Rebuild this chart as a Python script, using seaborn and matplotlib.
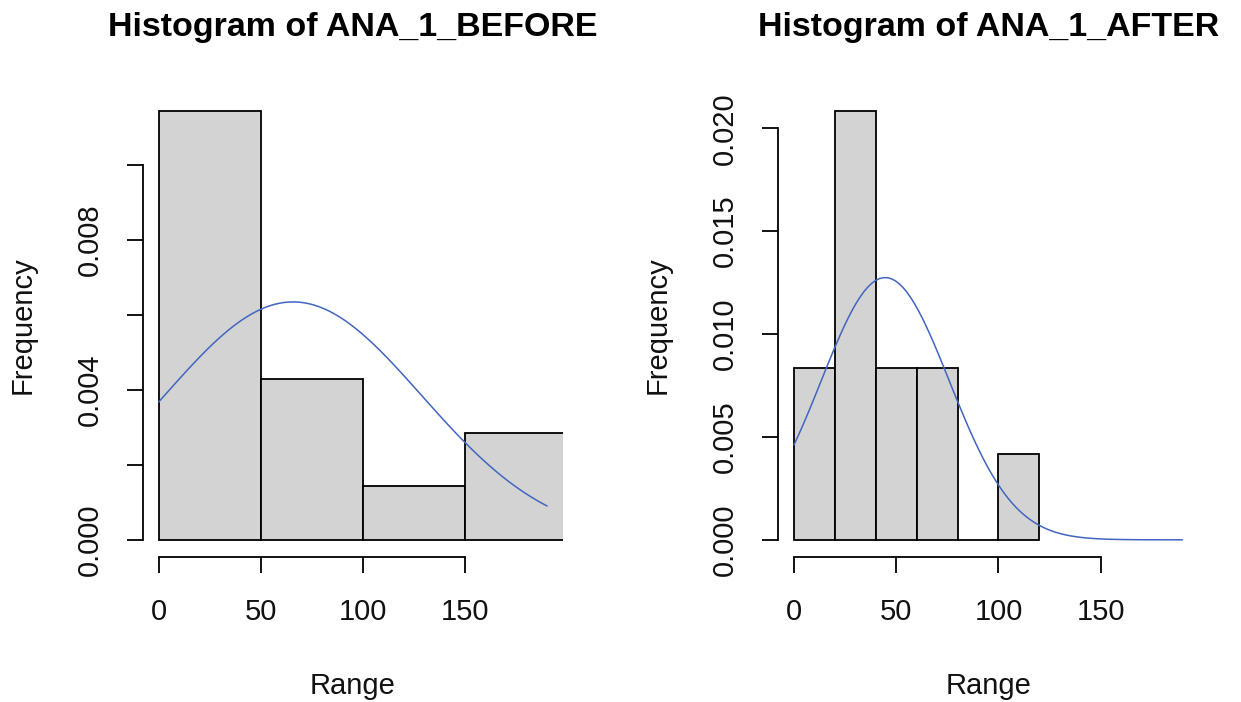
import numpy as np
import pandas as pd
import matplotlib
matplotlib.use("Agg")
import matplotlib.pyplot as plt
import seaborn as sns

# --- data (R hist, freq=FALSE, + dnorm curve) ---
before_edges = [0, 50, 100, 150, 200]
before_counts = [8, 3, 1, 2]
before_mean, before_sd = 65.8, 62.9
before_yticks = [0.000, 0.002, 0.004, 0.006, 0.008, 0.010]
before_ylabels = ["0.000", "", "0.004", "", "0.008", ""]

after_edges = [0, 20, 40, 60, 80, 100, 120]
after_counts = [2, 5, 2, 2, 0, 1]
after_mean, after_sd = 44.6, 31.3
after_yticks = [0.000, 0.005, 0.010, 0.015, 0.020]
after_ylabels = ["0.000", "0.005", "0.010", "0.015", "0.020"]

x_ticks = [0, 50, 100, 150]
x_range = (0, 190)

sns.set_style("white")
plt.rcParams['font.family'] = ['Liberation Sans', 'DejaVu Sans']
plt.rcParams['text.color'] = 'black'

fig = plt.figure(figsize=(12.41, 7.02), dpi=100)
ax_l = fig.add_axes([0.1152, 0.2066, 0.3381, 0.6595])
ax_r = fig.add_axes([0.6273, 0.2066, 0.3381, 0.6595])


def draw_panel(ax, edges, counts, mu, sd, yticks, ylabels, title):
    e = np.array(edges, dtype=float)
    mids = (e[:-1] + e[1:]) / 2
    df = pd.DataFrame({"x": mids, "w": counts})
    sns.histplot(data=df, x="x", weights="w", bins=list(edges), stat="density",
                 color="#D3D3D3", edgecolor="black", linewidth=1.3, alpha=1, ax=ax)

    # normal curve like curve(dnorm(x, mean, sd), add=TRUE)
    xs = np.linspace(x_range[0], x_range[1], 101)
    ys = np.exp(-(xs - mu) ** 2 / (2 * sd ** 2)) / (sd * np.sqrt(2 * np.pi))
    sns.lineplot(x=xs, y=ys, color="#4265C0", linewidth=1.1, ax=ax)

    # R-style limits: 4% padding around xlim / ylim
    dens = np.array(counts) / (np.sum(counts) * np.diff(e))
    xr = x_range[1] - x_range[0]
    ax.set_xlim(x_range[0] - 0.04 * xr, x_range[1] + 0.04 * xr)
    ymax = dens.max()
    ax.set_ylim(-0.04 * ymax, ymax * 1.04)

    ax.set_xticks(x_ticks)
    ax.set_xticklabels([str(t) for t in x_ticks], fontsize=21)
    ax.set_yticks(yticks)
    ax.set_yticklabels(ylabels, fontsize=21, rotation=90, va="center")

    for s in ["top", "right"]:
        ax.spines[s].set_visible(False)
    ax.spines["bottom"].set_bounds(x_ticks[0], x_ticks[-1])
    ax.spines["left"].set_bounds(yticks[0], yticks[-1])
    for s in ["bottom", "left"]:
        ax.spines[s].set_linewidth(1.3)
        ax.spines[s].set_color("black")
    ax.tick_params(axis="both", direction="out", length=11.5, width=1.3,
                   color="black", labelcolor="#111111", bottom=True, left=True)
    ax.tick_params(axis="x", pad=18)
    ax.tick_params(axis="y", pad=17)

    ax.set_xlabel("Range", fontsize=21, labelpad=33, color="#111111")
    ax.set_ylabel("Frequency", fontsize=21, labelpad=28, color="#111111")
    ax.set_title(title, fontsize=24.5, fontweight="bold", pad=42, color="black")
    ax.grid(False)


draw_panel(ax_l, before_edges, before_counts, before_mean, before_sd,
           before_yticks, before_ylabels, "Histogram of ANA_1_BEFORE")
draw_panel(ax_r, after_edges, after_counts, after_mean, after_sd,
           after_yticks, after_ylabels, "Histogram of ANA_1_AFTER")

fig.savefig("out.png", dpi=100)
